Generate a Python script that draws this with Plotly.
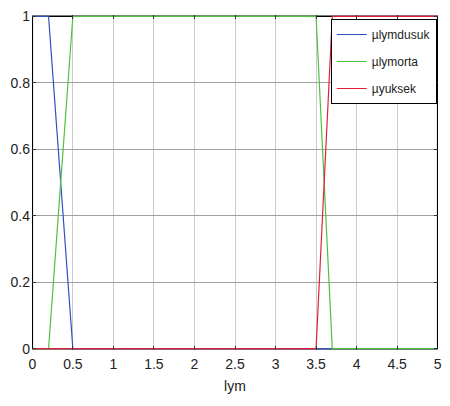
import plotly.graph_objects as go

x_dusuk = [0, 0.2, 0.5, 5]
y_dusuk = [1, 1, 0, 0]
x_orta = [0, 0.2, 0.5, 3.5, 3.7, 5]
y_orta = [0, 0, 1, 1, 0, 0]
x_yuksek = [0, 3.5, 3.7, 5]
y_yuksek = [0, 0, 1, 1]

names = ["µlymdusuk", "µlymorta", "µyuksek"]
colors = ["#3050c0", "#50c040", "#e0203a"]

x_ticks = [0, 0.5, 1, 1.5, 2, 2.5, 3, 3.5, 4, 4.5, 5]
x_ticklabels = ["0", "0.5", "1", "1.5", "2", "2.5", "3", "3.5", "4", "4.5", "5"]
y_ticks = [0, 0.2, 0.4, 0.6, 0.8, 1]
y_ticklabels = ["0", "0.2", "0.4", "0.6", "0.8", "1"]

FONT = "Liberation Sans, Arial, sans-serif"

fig = go.Figure()
for i, (xs, ys) in enumerate([(x_dusuk, y_dusuk), (x_orta, y_orta), (x_yuksek, y_yuksek)]):
    fig.add_trace(go.Scatter(x=xs, y=ys, mode="lines", name=names[i],
                             legendgroup=names[i],
                             line=dict(color=colors[i], width=1.2)))

# frame (below traces, above grid)
fig.add_shape(type="rect", xref="x", yref="y", x0=0, x1=5, y0=0, y1=1,
              line=dict(color="black", width=1.5), layer="between")

fig.update_layout(
    width=450, height=406,
    margin=dict(l=32, r=8, t=9, b=56),
    paper_bgcolor="white", plot_bgcolor="white",
    font=dict(family=FONT, size=14, color="#222"),
    showlegend=True,
    legend=dict(x=0.997, y=0.988, xanchor="right", yanchor="top",
                bgcolor="white", bordercolor="black", borderwidth=1,
                font=dict(size=12, family=FONT, color="#222"),
                itemwidth=30, tracegroupgap=8, traceorder="grouped"),
)
fig.update_xaxes(range=[-0.004, 5.004], tickvals=x_ticks, ticktext=x_ticklabels,
                 showgrid=True, gridcolor="#cccccc", gridwidth=1,
                 zeroline=False, showline=False, ticks="inside", ticklen=4,
                 tickcolor="#333", mirror="ticks", ticklabelstandoff=4,
                 title=dict(text="lym", standoff=10, font=dict(size=14, family=FONT)))
fig.update_yaxes(range=[-0.004, 1.004], tickvals=y_ticks, ticktext=y_ticklabels,
                 showgrid=True, gridcolor="#a0a0a0", gridwidth=1,
                 zeroline=False, showline=False, ticks="inside", ticklen=4,
                 tickcolor="#333", mirror="ticks", ticklabelstandoff=1)

fig.write_html("out.html")
